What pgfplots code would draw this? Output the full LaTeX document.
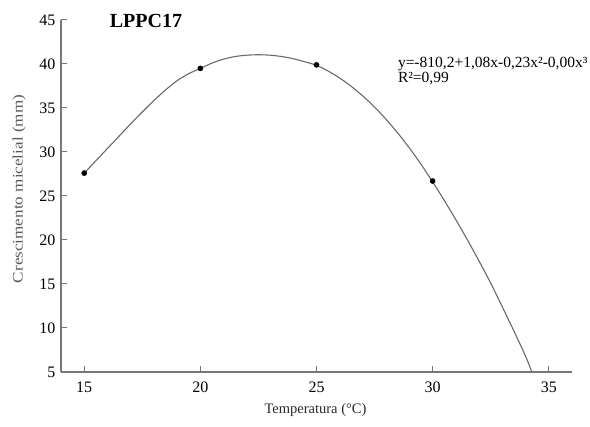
\documentclass[border=0pt]{standalone}
\usepackage{fontspec}
\setmainfont{Liberation Serif}
\usepackage{pgfplots}
\pgfplotsset{compat=1.18}
\definecolor{axgray}{RGB}{120,120,120}
\definecolor{curvegray}{RGB}{105,105,105}
\begin{document}
\begin{tikzpicture}
\begin{axis}[
  scale only axis, width=511pt, height=352pt,
  xmin=14, xmax=36, ymin=5, ymax=45,
  axis lines=left,
  axis line style={axgray, line width=1.4pt, -},
  xtick={15,20,25,30,35}, ytick={5,10,15,20,25,30,35,40,45},
  tick style={axgray, line width=1pt},
  major tick length=6pt, tick align=inside,
  /pgf/number format/assume math mode=true,
  ticklabel style={font=\fontsize{16}{19}\selectfont, black},
  yticklabel style={xshift=-2pt},
  xticklabel style={yshift=-6pt},
  xlabel={Temperatura (°C)},
  ylabel={\scalebox{1.18}[1]{Crescimento micelial (mm)}},
  xlabel style={font=\fontsize{14.5}{17}\selectfont, color={rgb,255:red,40;green,40;blue,40}, at={(axis description cs:0.498,-0.108)}, anchor=center},
  ylabel style={font=\fontsize{14.5}{17}\selectfont, color={rgb,255:red,90;green,90;blue,90}, at={(axis description cs:-0.082,0.52)}, anchor=center},
  clip=false,
]
\coordinate (SW) at (rel axis cs:0,0);
\coordinate (NE) at (rel axis cs:1,1);
\addplot[curvegray, line width=1.1pt, smooth] coordinates {
(15,27.6) (15.5,29.0) (16,30.4) (16.5,31.8) (17,33.2) (17.5,34.55)
(18,35.85) (18.5,37.05) (19,38.1) (19.5,38.9) (20,39.5) (20.5,40.1)
(21,40.55) (21.5,40.85) (22,41.0) (22.5,41.05) (23,41.0) (23.5,40.85)
(24,40.6) (24.5,40.25) (25,39.85) (25.5,39.2) (26,38.4) (26.5,37.45)
(27,36.35) (27.5,35.1) (28,33.7) (28.5,32.15) (29,30.45) (29.5,28.6)
(30,26.6) (30.5,24.5) (31,22.3) (31.5,20.0) (32,17.6) (32.5,15.1)
(33,12.4) (33.5,9.65) (34,6.8) (34.27,5.0)
};
\addplot[only marks, mark=*, mark size=2.6pt, black] coordinates {
(15,27.6) (20,39.5) (25,39.9) (30,26.7)
};
\node[anchor=base west, font=\fontsize{20}{23}\selectfont\bfseries] at (axis cs:15.95,44.2) {LPPC17};
\node[anchor=base west, font=\fontsize{15.5}{18}\selectfont, inner sep=0pt] at (axis cs:28.5,39.6) {y=-810,2+1,08x-0,23x²-0,00x³};
\node[anchor=base west, font=\fontsize{15.5}{18}\selectfont, inner sep=0pt] at (axis cs:28.5,37.85) {R²=0,99};
\end{axis}
\pgfresetboundingbox
\path ([shift={(-61pt,-55pt)}]SW) rectangle ([shift={(18pt,20pt)}]NE);
\end{tikzpicture}
\end{document}
